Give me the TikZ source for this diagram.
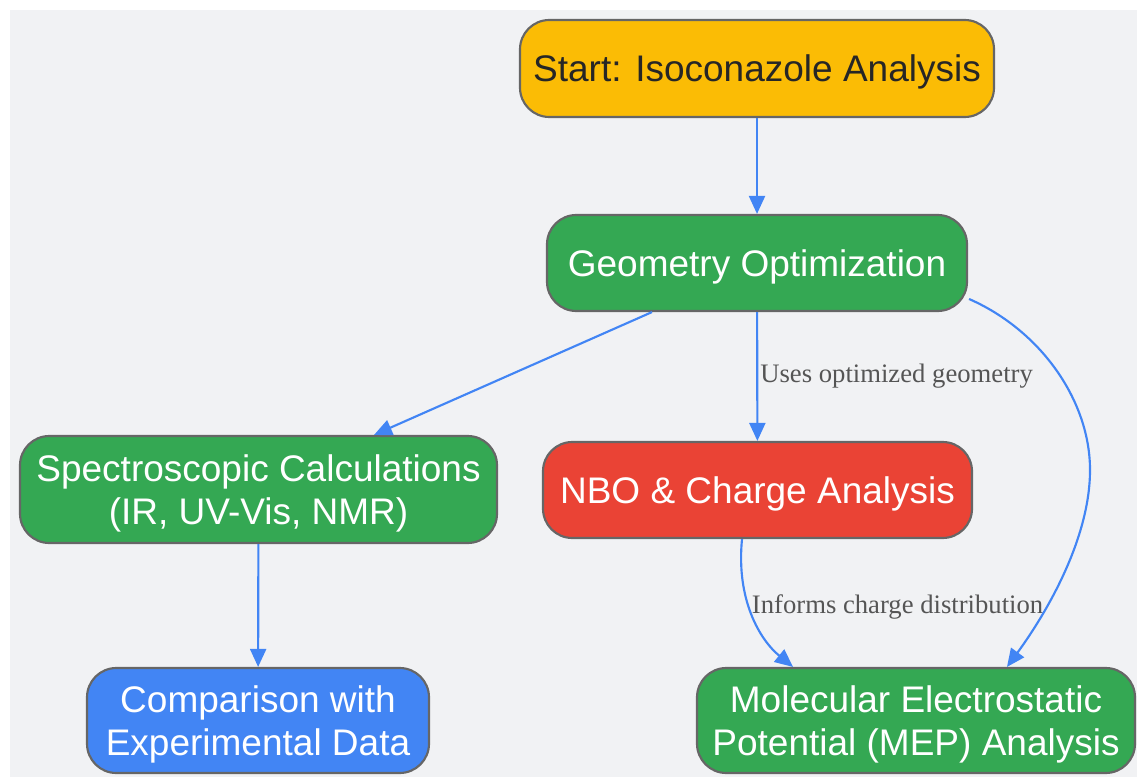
\documentclass[tikz,border=0pt]{standalone}
\usepackage{fontspec}
\setmainfont{Liberation Sans}
\newfontfamily\edgefont{Liberation Serif}
\usetikzlibrary{arrows.meta,calc}
\definecolor{bgray}{HTML}{F1F2F4}
\definecolor{edgegray}{HTML}{666666}
\definecolor{labelgray}{HTML}{555555}
\definecolor{startink}{HTML}{262626}
\definecolor{gyellow}{HTML}{FBBC05}
\definecolor{ggreen}{HTML}{34A853}
\definecolor{gred}{HTML}{EA4335}
\definecolor{gblue}{HTML}{4285F4}
\begin{document}
\begin{tikzpicture}[x=0.75pt,y=-0.75pt,
    box/.style={draw=edgegray,line width=1.6pt,rounded corners=22pt,align=center,inner sep=0pt,text depth=0pt,text=white,font=\fontsize{27.75}{32.25}\selectfont},
    flow/.style={draw=gblue,line width=1.6pt,-{Stealth[length=13.5pt,width=12pt,inset=0pt]},fill=none},
    elabel/.style={font=\edgefont\fontsize{20}{24}\selectfont,text=labelgray,inner sep=1.5pt}]
    \useasboundingbox (0,0) rectangle (1137,777);
    \fill[bgray] (10,10) rectangle (1137,777);
    \node[box,fill=gyellow,text=startink,minimum width=355.5pt,minimum height=72.75pt] (start) at (757,68.5) {Start: Isoconazole Analysis};
    \node[box,fill=ggreen,minimum width=315pt,minimum height=72pt] (geom) at (757,263) {Geometry Optimization};
    \node[box,fill=ggreen,minimum width=357.75pt,minimum height=80.25pt] (spec) at (258.5,489.5) {Spectroscopic Calculations\\(IR, UV-Vis, NMR)};
    \node[box,fill=gred,minimum width=321.75pt,minimum height=72pt] (nbo) at (757.5,490) {NBO \& Charge Analysis};
    \node[box,fill=gblue,minimum width=256.5pt,minimum height=78.75pt] (comp) at (258,720.5) {Comparison with\\Experimental Data};
    \node[box,fill=ggreen,minimum width=328.5pt,minimum height=78.75pt] (mep) at (916,720.5) {Molecular Electrostatic\\Potential (MEP) Analysis};
    \draw[flow] (start) -- (geom);
    \draw[flow] ($(geom.south)+(-105,0)$) -- ($(spec.north)+(115.5,0)$);
    \draw[flow] (geom) -- (nbo) node[elabel,midway,right]{Uses optimized geometry};
    \draw[flow] (spec) -- (comp);
    \draw[flow] ($(nbo.south)+(-15.5,0)$) .. controls (736,600) and (760,640) .. ($(mep.north)+(-123,0)$) node[elabel,pos=0.5,anchor=west,xshift=-3pt,yshift=6.5pt]{Informs charge distribution};
    \draw[flow] ($(geom.east)+(1,36)$) .. controls (1040,330) and (1090,400) .. (1090,470) .. controls (1090,540) and (1045,615) .. ($(mep.north)+(91,0)$);
\end{tikzpicture}
\end{document}
